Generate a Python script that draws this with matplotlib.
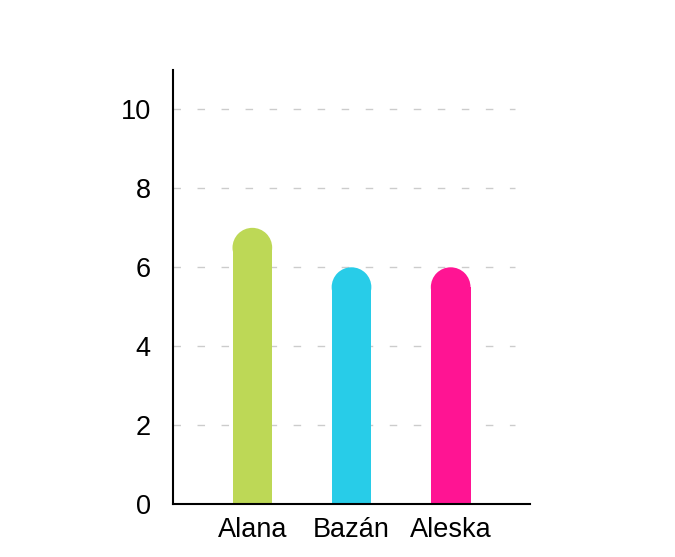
import matplotlib
matplotlib.use('Agg')
import matplotlib.pyplot as plt
from matplotlib.patches import Ellipse

# du lieu
names = ['Alana', 'Bazán', 'Aleska']
values = [7, 6, 6]
colors = ['#bdd856', '#28cce8', '#ff1493']
yticks = [0, 2, 4, 6, 8, 10]

plt.rcParams['font.family'] = ['Liberation Sans', 'DejaVu Sans']

fig = plt.figure(figsize=(6.75, 5.57), dpi=100)
ax = fig.add_axes([0.2563, 0.0951, 0.5289, 0.7792])

xmin, xmax = -0.8, 2.8
ymin, ymax = 0, 11
ax.set_xlim(xmin, xmax)
ax.set_ylim(ymin, ymax)

# duong luoi ngang, net dut
ax.hlines(yticks[1:], xmin, 2.65, colors='#cccccc', linewidth=1,
          linestyles=(0, (5.4, 11.9)), zorder=0)

# chuyen doi kich thuoc: ban kinh dau tron theo don vi du lieu
bw = 0.4
ax_w = fig.get_figwidth() * fig.dpi * 0.5289
ax_h = fig.get_figheight() * fig.dpi * 0.7792
px_x = ax_w / (xmax - xmin)
px_y = ax_h / (ymax - ymin)
r = (bw / 2) * px_x / px_y

x = range(len(names))
ax.bar(x, [v - r for v in values], width=bw, color=colors, zorder=2)
for i, v in enumerate(values):
    ax.add_patch(Ellipse((i, v - r), bw, 2 * r, color=colors[i],
                         linewidth=0, zorder=2))

ax.set_xticks(list(x))
ax.set_xticklabels(names)
ax.set_yticks(yticks)
ax.tick_params(axis='both', length=0, labelsize=19.5)
ax.tick_params(axis='y', pad=16)
ax.tick_params(axis='x', pad=9)

for s in ['top', 'right']:
    ax.spines[s].set_visible(False)
for s in ['left', 'bottom']:
    ax.spines[s].set_linewidth(1.5)
    ax.spines[s].set_color('black')

fig.savefig('out.png', dpi=100)
